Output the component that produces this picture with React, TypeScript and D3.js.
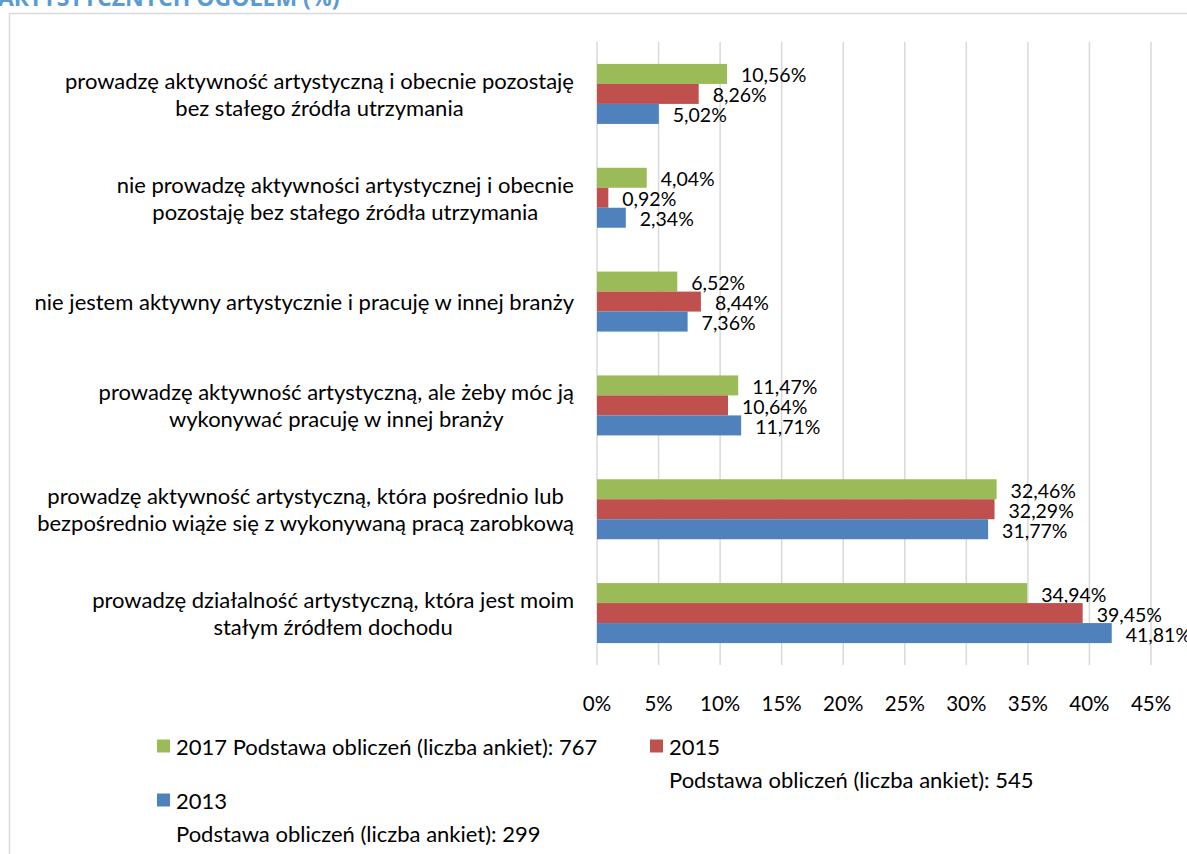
import React, { useEffect, useRef } from "react";
import * as d3 from "d3";

const categories: string[][] = [
  ["prowadzę aktywność artystyczną i obecnie pozostaję", "bez stałego źródła utrzymania"],
  ["nie prowadzę aktywności artystycznej i obecnie", "pozostaję bez stałego źródła utrzymania"],
  ["nie jestem aktywny artystycznie i pracuję w innej branży"],
  ["prowadzę aktywność artystyczną, ale żeby móc ją", "wykonywać pracuję w innej branży"],
  ["prowadzę aktywność artystyczną, która pośrednio lub", "bezpośrednio wiąże się z wykonywaną pracą zarobkową"],
  ["prowadzę działalność artystyczną, która jest moim", "stałym źródłem dochodu"],
];

const values2017 = [10.56, 4.04, 6.52, 11.47, 32.46, 34.94];
const values2015 = [8.26, 0.92, 8.44, 10.64, 32.29, 39.45];
const values2013 = [5.02, 2.34, 7.36, 11.71, 31.77, 41.81];

const seriesNames = ["2017", "2015", "2013"];
const seriesColors = ["#9BBB59", "#C0504D", "#4F81BD"];
const xTicks = [0, 5, 10, 15, 20, 25, 30, 35, 40, 45];

const legendItems = [
  { lines: ["2017 Podstawa obliczeń (liczba ankiet): 767"] },
  { lines: ["2015", "Podstawa obliczeń (liczba ankiet): 545"] },
  { lines: ["2013", "Podstawa obliczeń (liczba ankiet): 299"] },
];

const titleText = "ARTYSTYCZNYCH OGÓŁEM (%)";

export default function App() {
  const ref = useRef<SVGSVGElement>(null);

  useEffect(() => {
    const svg = d3.select(ref.current);
    svg.selectAll("*").remove();

    const W = 1187, H = 854;
    const font = "Lato, 'Open Sans', sans-serif";

    // title (cut off at the top edge)
    svg.append("text")
      .attr("x", -2).attr("y", 6)
      .attr("font-family", "'Open Sans', sans-serif")
      .attr("font-weight", "bold")
      .attr("font-size", 23)
      .attr("fill", "#5B9BD5")
      .text(titleText);

    // frame
    svg.append("rect")
      .attr("x", 9.5).attr("y", 13.5)
      .attr("width", W + 20).attr("height", H + 20)
      .attr("fill", "none").attr("stroke", "#D9D9D9").attr("stroke-width", 1.5);

    const x = d3.scaleLinear().domain([0, 45]).range([597, 1151]);
    const idx = categories.map((_, i) => String(i));
    const y = d3.scaleBand().domain(idx).range([42, 665]);
    const inner = d3.scaleBand().domain(seriesNames).range([0, 60]);
    const series = [values2017, values2015, values2013];

    // gridlines
    svg.append("g").selectAll("line").data(xTicks).join("line")
      .attr("x1", d => x(d)).attr("x2", d => x(d))
      .attr("y1", 42).attr("y2", 665)
      .attr("stroke", "#D9D9D9").attr("stroke-width", 1.5);

    // tick labels
    svg.append("g").selectAll("text").data(xTicks).join("text")
      .attr("x", d => x(d)).attr("y", 703)
      .attr("text-anchor", "middle").attr("dominant-baseline", "central")
      .attr("font-family", font).attr("font-size", 20.5).attr("fill", "#000")
      .text(d => d + "%");

    const fmt = (v: number) => d3.format(".2f")(v).replace(".", ",") + "%";

    // bars + value labels
    series.forEach((vals, s) => {
      const g = svg.append("g");
      const barY = (i: number) =>
        (y(String(i)) as number) + y.bandwidth() / 2 - 30 + (inner(seriesNames[s]) as number);
      g.selectAll("rect").data(vals).join("rect")
        .attr("x", x(0))
        .attr("y", (_, i) => barY(i))
        .attr("width", d => x(d) - x(0))
        .attr("height", inner.bandwidth())
        .attr("fill", seriesColors[s]);
      g.selectAll("text").data(vals).join("text")
        .attr("x", d => x(d) + 14)
        .attr("y", (_, i) => barY(i) + inner.bandwidth() / 2 + 1)
        .attr("dominant-baseline", "central")
        .attr("font-family", font).attr("font-size", 19.5).attr("fill", "#000")
        .text(d => fmt(d));
    });

    // category labels (centered block, right edge at 574)
    categories.forEach((lines, i) => {
      const cy = (y(String(i)) as number) + y.bandwidth() / 2;
      const g = svg.append("g");
      const texts = g.selectAll("text").data(lines).join("text")
        .attr("y", (_, j) => cy + (j - (lines.length - 1) / 2) * 27)
        .attr("dominant-baseline", "central")
        .attr("text-anchor", "middle")
        .attr("font-family", font).attr("font-size", 22).attr("fill", "#000")
        .text(d => d);
      let maxW = 0;
      texts.each(function () {
        maxW = Math.max(maxW, (this as SVGTextElement).getComputedTextLength());
      });
      texts.attr("x", 574 - maxW / 2);
    });

    // legend
    const legPos = [
      { x: 157, y: 746 },
      { x: 650, y: 746 },
      { x: 157, y: 800 },
    ];
    legendItems.forEach((item, s) => {
      const p = legPos[s];
      svg.append("rect").attr("x", p.x).attr("y", p.y - 6.5).attr("width", 13).attr("height", 13)
        .attr("fill", seriesColors[s]);
      svg.append("g").selectAll("text").data(item.lines).join("text")
        .attr("x", p.x + 19).attr("y", (_, j) => p.y + j * 33)
        .attr("dominant-baseline", "central")
        .attr("font-family", font).attr("font-size", 22).attr("fill", "#000")
        .text(d => d);
    });
  }, []);

  return (
    <svg ref={ref} width={1187} height={854}
      style={{ position: "absolute", left: 0, top: 0, background: "#fff" }} />
  );
}
